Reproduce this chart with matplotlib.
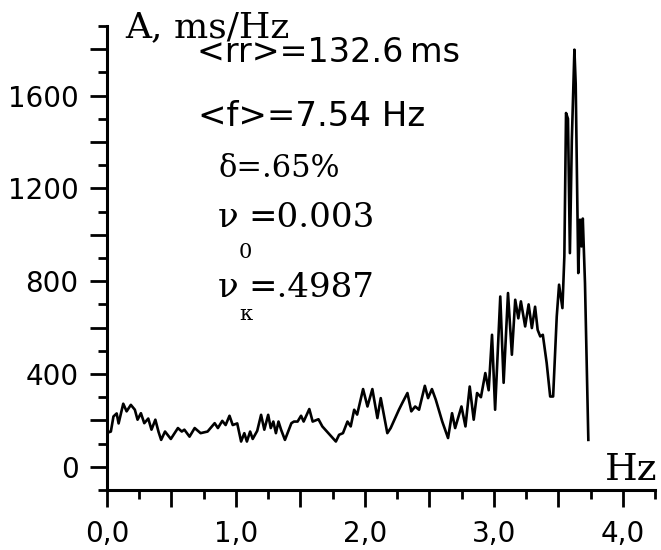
import matplotlib
matplotlib.use("Agg")
import matplotlib.pyplot as plt
from matplotlib.ticker import MultipleLocator, FuncFormatter

# spectrum (Hz, ms/Hz)
freq = [
    0.02, 0.03, 0.05, 0.075, 0.09, 0.126, 0.152, 0.185, 0.216, 0.237,
    0.263, 0.289, 0.32, 0.345, 0.375, 0.40, 0.42, 0.45, 0.495, 0.55,
    0.58, 0.60, 0.64, 0.68, 0.726, 0.78, 0.835, 0.86, 0.894, 0.92,
    0.95, 0.975, 1.01, 1.04, 1.065, 1.085, 1.11, 1.13, 1.165, 1.195,
    1.22, 1.25, 1.27, 1.29, 1.31, 1.33, 1.35, 1.38, 1.43, 1.45,
    1.478, 1.505, 1.525, 1.569, 1.595, 1.64, 1.67, 1.775, 1.80, 1.83,
    1.865, 1.89, 1.917, 1.94, 1.986, 2.02, 2.058, 2.097, 2.123, 2.174,
    2.20, 2.264, 2.29, 2.33, 2.36, 2.39, 2.42, 2.465, 2.49, 2.52,
    2.55, 2.60, 2.645, 2.676, 2.70, 2.749, 2.78, 2.813, 2.844, 2.87,
    2.90, 2.934, 2.96, 2.986, 3.01, 3.05, 3.076, 3.11, 3.14, 3.166,
    3.19, 3.21, 3.243, 3.27, 3.295, 3.32, 3.34, 3.36, 3.38, 3.41,
    3.437, 3.46, 3.488, 3.506, 3.532, 3.547, 3.56, 3.575, 3.59, 3.605,
    3.625, 3.635, 3.655, 3.668, 3.68, 3.69, 3.707, 3.733,
]
amp = [
    150, 152, 217, 230, 187, 272, 239, 267, 246, 203,
    231, 188, 208, 160, 203, 150, 116, 152, 120, 167,
    152, 160, 130, 167, 145, 152, 188, 167, 198, 180,
    220, 180, 187, 109, 145, 109, 152, 120, 155, 224,
    160, 224, 167, 195, 145, 195, 160, 116, 188, 195,
    195, 220, 195, 249, 195, 205, 174, 109, 138, 145,
    195, 174, 246, 225, 335, 260, 335, 210, 296, 145,
    167, 246, 275, 318, 239, 260, 246, 349, 296, 335,
    289, 195, 124, 231, 167, 260, 174, 346, 203, 318,
    300, 404, 330, 569, 246, 734, 362, 749, 483, 720,
    640, 713, 605, 700, 598, 690, 590, 562, 569, 447,
    303, 303, 648, 785, 684, 907, 1525, 1500, 921, 1410,
    1798, 1650, 835, 1065, 950, 1070, 792, 116,
]

x_tick_labels = ["0,0", "1,0", "2,0", "3,0", "4,0"]

W, H = 661, 550
fig = plt.figure(figsize=(W / 100, H / 100), dpi=100)
ax = fig.add_axes([107 / W, 1 - 490 / H, (655 - 107) / W, (490 - 26) / H])

ax.plot(freq, amp, color="black", lw=1.9)

ax.set_xlim(0, 4.25)
ax.set_ylim(-100, 1900)

for side in ["top", "right"]:
    ax.spines[side].set_visible(False)
for side in ["left", "bottom"]:
    ax.spines[side].set_linewidth(2.2)

ax.xaxis.set_major_locator(MultipleLocator(0.5))
ax.xaxis.set_minor_locator(MultipleLocator(0.25))
ax.yaxis.set_major_locator(MultipleLocator(200))
ax.yaxis.set_minor_locator(MultipleLocator(100))


def x_fmt(v, pos):
    k = int(round(v * 2))
    if k % 2 == 0 and 0 <= k // 2 < len(x_tick_labels):
        return x_tick_labels[k // 2]
    return ""


def y_fmt(v, pos):
    iv = int(round(v))
    return str(iv) if iv % 400 == 0 and iv >= 0 else ""


ax.xaxis.set_major_formatter(FuncFormatter(x_fmt))
ax.yaxis.set_major_formatter(FuncFormatter(y_fmt))
ax.tick_params(which="major", length=12.5, width=2, labelsize=20, pad=9)
ax.tick_params(which="minor", length=6.5, width=2)
ax.tick_params(axis="y", which="major", pad=8)


def put(text, x, y, size, family="DejaVu Sans"):
    fig.text(x / W, 1 - y / H, text, fontsize=size, family=family,
             va="baseline", ha="left")


put("A, ms/Hz", 125, 37, 26, "DejaVu Serif")
put("<rr>=132.6\u2009ms", 197, 62, 24)
put("<f>=7.54 Hz", 198, 126, 24.5)
put("δ=.65%", 219, 177, 22, "DejaVu Serif")
put("ν", 218, 227, 24.5, "DejaVu Serif")
put("0", 239, 258, 15, "DejaVu Serif")
put("=0.003", 248, 227, 24.5, "DejaVu Serif")
put("ν", 218, 297, 24.5, "DejaVu Serif")
put("κ", 239, 320, 15, "DejaVu Serif")
put("=.4987", 248, 297, 24.5, "DejaVu Serif")
put("Hz", 605, 480, 27, "DejaVu Serif")

fig.savefig("out.png", dpi=100)
